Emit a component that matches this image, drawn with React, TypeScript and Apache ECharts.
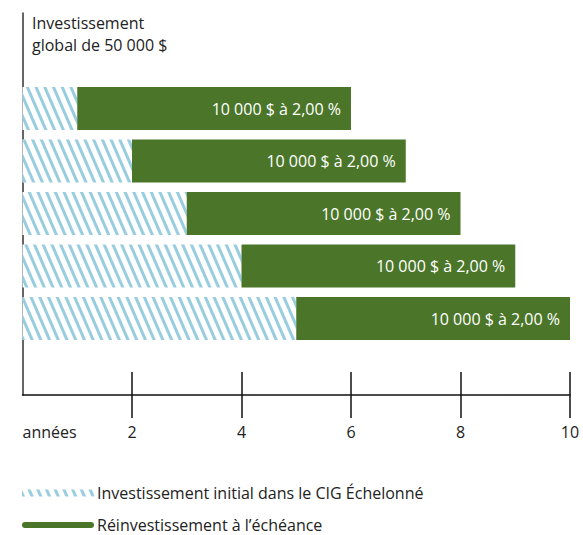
import React, { useEffect, useRef } from "react";
import * as echarts from "echarts";

const categories = ["1", "2", "3", "4", "5"];
const initialValues = [1, 2, 3, 4, 5];
const reinvestValues = [5, 5, 5, 5, 5];
const barLabels = ["10 000 $ à 2,00 %", "10 000 $ à 2,00 %", "10 000 $ à 2,00 %", "10 000 $ à 2,00 %", "10 000 $ à 2,00 %"];
const tickValues = [2, 4, 6, 8, 10];
const seriesNames = ["Investissement initial dans le CIG Échelonné", "Réinvestissement à l’échéance"];
const titleText = "Investissement\nglobal de 50 000 $";
const axisName = "années";

const FONT = "Open Sans";
const GREEN = "#4b7629";
const STRIPE = "#98cde0";

export default function App() {
  const ref = useRef<HTMLDivElement>(null);
  useEffect(() => {
    document.body.style.margin = "0";
    const chart = echarts.init(ref.current!, null, { renderer: "svg" });
    const left = 22.5;
    const right = 13;
    const legendBase = {
      orient: "vertical",
      left: 22,
      padding: 0,
      itemWidth: 72,
      itemHeight: 7,
      textStyle: { fontFamily: FONT, fontSize: 16, lineHeight: 18, color: "#222", padding: [0, 0, 0, -2] },
    };
    chart.setOption({
      animation: false,
      textStyle: { fontFamily: FONT },
      title: {
        text: titleText,
        left: 27,
        top: 7,
        textStyle: { fontFamily: FONT, fontSize: 16, fontWeight: "normal", color: "#222", lineHeight: 22 },
      },
      grid: [
        { left, right, top: 82.25, height: 262.5 },
        { left, right, top: 13, bottom: 140 },
      ],
      xAxis: [
        {
          gridIndex: 0,
          type: "value",
          min: 0,
          max: 10,
          interval: 2,
          position: "bottom",
          offset: 50.25,
          axisLine: { show: false },
          axisTick: { show: true, inside: false, length: 23, customValues: tickValues, lineStyle: { color: "#111", width: 1.5 } },
          axisLabel: { show: false },
          splitLine: { show: false },
        },
        {
          gridIndex: 1,
          type: "value",
          min: 0,
          max: 10,
          interval: 2,
          position: "bottom",
          axisLine: { show: true, onZero: false, lineStyle: { color: "#111", width: 1.5 } },
          axisTick: { show: true, inside: true, length: 23, customValues: tickValues, lineStyle: { color: "#111", width: 1.5 } },
          axisLabel: {
            show: true,
            margin: 29,
            fontSize: 16,
            fontFamily: FONT,
            color: "#222",
            alignMinLabel: "left",
            customValues: [0, ...tickValues],
            formatter: (v: number) => (v === 0 ? axisName : String(v)),
          },
          splitLine: { show: false },
        },
      ],
      yAxis: [
        { gridIndex: 0, type: "category", data: categories, inverse: true, show: false },
        {
          gridIndex: 1,
          type: "value",
          min: 0,
          max: 1,
          axisLine: { show: true, onZero: false, lineStyle: { color: "#333", width: 1.5 } },
          axisTick: { show: false },
          axisLabel: { show: false },
          splitLine: { show: false },
        },
      ],
      legend: [
        { ...legendBase, top: 484, data: [{ name: seriesNames[0], icon: "rect" }] },
        {
          ...legendBase,
          top: 516,
          data: [{ name: seriesNames[1], icon: "path://M3,0 H70 A3,3 0 0 1 70,6 H3 A3,3 0 0 1 3,0 Z" }],
        },
      ],
      series: [
        {
          name: seriesNames[0],
          type: "bar",
          stack: "total",
          xAxisIndex: 0,
          yAxisIndex: 0,
          barWidth: 43,
          data: initialValues,
          itemStyle: {
            color: "#ffffff",
            decal: {
              symbol: "rect",
              symbolSize: 1,
              color: STRIPE,
              backgroundColor: "#ffffff",
              dashArrayX: [1, 0],
              dashArrayY: [3, 5],
              rotation: Math.PI * 0.37,
            },
          },
        },
        {
          name: seriesNames[1],
          type: "bar",
          stack: "total",
          xAxisIndex: 0,
          yAxisIndex: 0,
          barWidth: 43,
          data: reinvestValues,
          itemStyle: { color: GREEN },
          label: {
            show: true,
            position: "insideRight",
            distance: 10,
            color: "#ffffff",
            fontFamily: FONT,
            fontSize: 16,
            formatter: (p: any) => barLabels[p.dataIndex],
          },
        },
      ],
    });
    return () => chart.dispose();
  }, []);
  return <div ref={ref} style={{ width: 583, height: 535 }} />;
}
